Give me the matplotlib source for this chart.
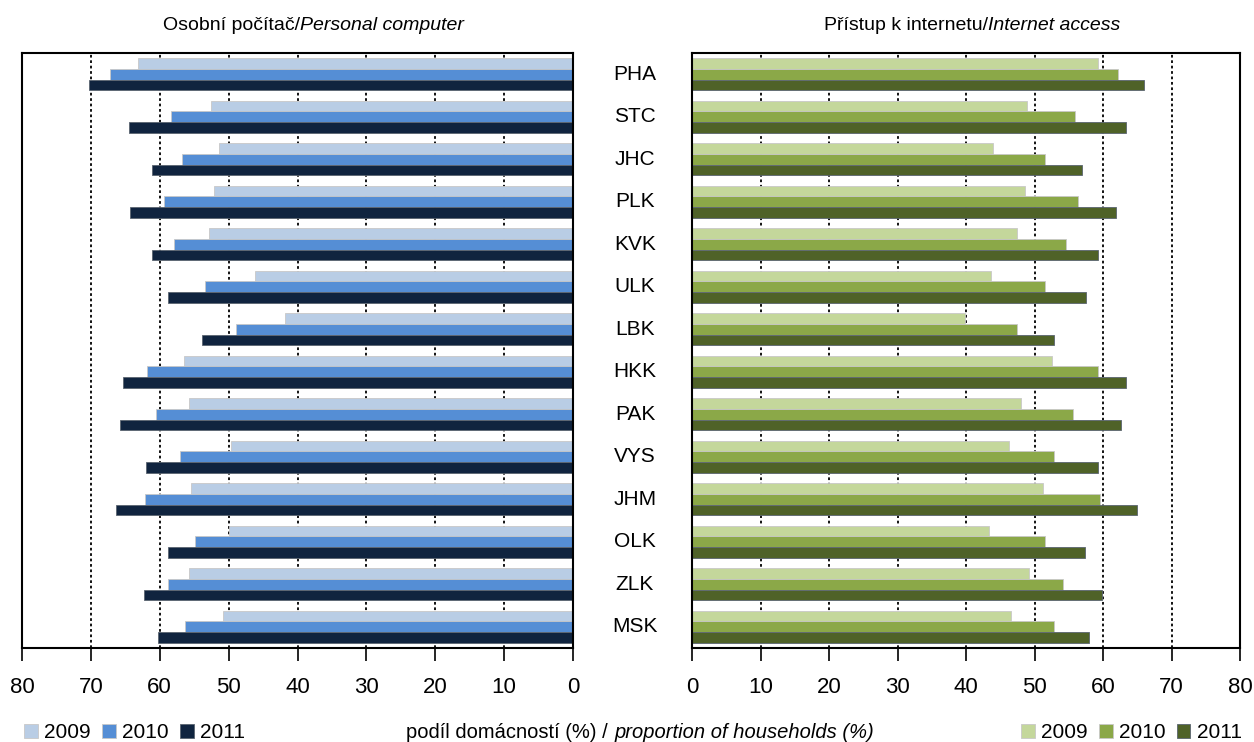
import matplotlib
matplotlib.use("Agg")
import matplotlib.pyplot as plt
import matplotlib.transforms as mtransforms
import numpy as np

plt.rcParams['font.family'] = ['Liberation Sans', 'DejaVu Sans']

regions = ["PHA", "STC", "JHC", "PLK", "KVK", "ULK", "LBK",
           "HKK", "PAK", "VYS", "JHM", "OLK", "ZLK", "MSK"]
years = ["2009", "2010", "2011"]

# share of households with a personal computer (%)
pc_2009 = [63.1, 52.5, 51.4, 52.1, 52.8, 46.2, 41.8, 56.5, 55.7, 49.6, 55.4, 49.9, 55.7, 50.8]
pc_2010 = [67.2, 58.3, 56.8, 59.4, 57.9, 53.4, 49.0, 61.8, 60.6, 57.1, 62.1, 54.9, 58.8, 56.3]
pc_2011 = [70.3, 64.5, 61.1, 64.3, 61.1, 58.8, 53.9, 65.4, 65.7, 62.0, 66.3, 58.8, 62.3, 60.2]

# share of households with internet access (%)
net_2009 = [59.3, 48.9, 43.9, 48.6, 47.4, 43.7, 39.9, 52.6, 48.0, 46.3, 51.2, 43.4, 49.2, 46.6]
net_2010 = [62.2, 55.9, 51.5, 56.4, 54.6, 51.5, 47.4, 59.3, 55.6, 52.9, 59.6, 51.5, 54.1, 52.9]
net_2011 = [66.0, 63.4, 57.0, 61.9, 59.3, 57.5, 52.9, 63.4, 62.6, 59.3, 64.9, 57.3, 59.9, 57.9]

pc_colors = ["#B9CDE5", "#558ED5", "#10243F"]
net_colors = ["#C4D79B", "#8BA848", "#4F6228"]

fig = plt.figure(figsize=(12.54, 7.42), dpi=100)
ax1 = fig.add_axes([22 / 1254, 94 / 742, 551 / 1254, 595 / 742])
ax2 = fig.add_axes([692 / 1254, 94 / 742, 548 / 1254, 595 / 742])

y = np.arange(len(regions))
h = 0.25


def draw_panel(ax, series, colors):
    for k, (vals, col) in enumerate(zip(series, colors)):
        ax.barh(y + (k - 1) * h, vals, height=h, color=col,
                edgecolor="#C8C8C8" if k < 2 else "#5A6470", linewidth=0.6,
                label=years[k], zorder=2)
    ax.set_xlim(0, 80)
    ax.set_ylim(len(regions) - 0.5, -0.5)
    ax.set_xticks(range(0, 81, 10))
    ax.set_yticks([])
    ax.grid(axis="x", color="black", linestyle=(0, (1.5, 1.5)), linewidth=1.3, zorder=1)
    ax.tick_params(axis="x", direction="out", length=9, width=1.2, labelsize=16, pad=12)
    for s in ax.spines.values():
        s.set_linewidth(1.5)


draw_panel(ax1, [pc_2009, pc_2010, pc_2011], pc_colors)
ax1.invert_xaxis()
draw_panel(ax2, [net_2009, net_2010, net_2011], net_colors)

# region labels in the middle
trans = mtransforms.blended_transform_factory(fig.transFigure, ax1.transData)
for i, r in enumerate(regions):
    ax1.text(635 / 1254, i, r, transform=trans, ha="center", va="center",
             fontsize=15, clip_on=False)

# titles: Czech in normal, English in italic
fig.text(300 / 1254, 1 - 25 / 742, "Osobní počítač/", ha="right", va="center", fontsize=14)
fig.text(300 / 1254, 1 - 25 / 742, "Personal computer", ha="left", va="center",
         fontsize=14, style="italic")
fig.text(988 / 1254, 1 - 25 / 742, "Přístup k internetu/", ha="right", va="center", fontsize=14)
fig.text(988 / 1254, 1 - 25 / 742, "Internet access", ha="left", va="center",
         fontsize=14, style="italic")

# axis label
fig.text(613 / 1254, 1 - 732 / 742, "podíl domácností (%) / ", ha="right", va="center", fontsize=14.5)
fig.text(615 / 1254, 1 - 732 / 742, "proportion of households (%)", ha="left", va="center",
         fontsize=14.5, style="italic")

leg_kw = dict(ncol=3, frameon=False, fontsize=15, handlelength=0.65, handleheight=0.65,
              handletextpad=0.3, columnspacing=0.55, borderaxespad=0)
h1, l1 = ax1.get_legend_handles_labels()
fig.legend(h1, l1, loc="center left", bbox_to_anchor=(16 / 1254, 1 - 733 / 742), **leg_kw)
h2, l2 = ax2.get_legend_handles_labels()
fig.legend(h2, l2, loc="center right", bbox_to_anchor=(1250 / 1254, 1 - 733 / 742), **leg_kw)

fig.savefig("out.png", dpi=100)
